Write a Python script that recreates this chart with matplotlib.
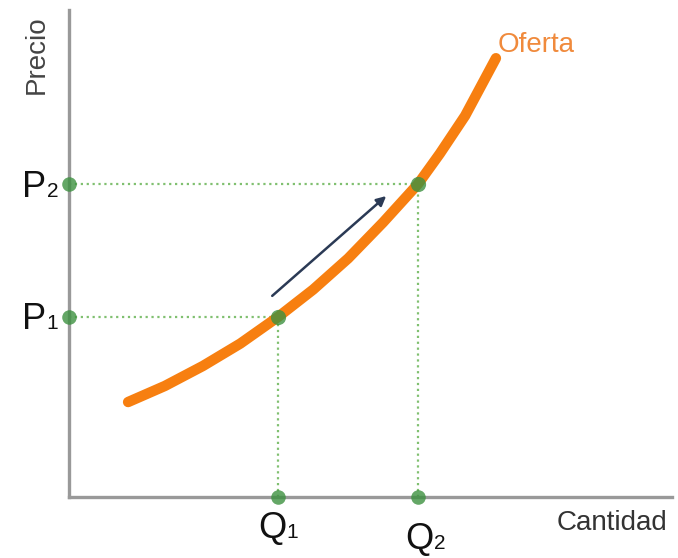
import matplotlib.pyplot as plt

plt.rcParams['font.family'] = ['Liberation Sans', 'DejaVu Sans']

# supply curve (quantity, price), 0-100 scale
curve_q = [9.8, 15.9, 22.2, 28.4, 34.7, 40.5, 46.3, 52.1, 57.9, 61.5, 65.7, 70.8]
curve_p = [19.5, 22.8, 26.9, 31.5, 37.0, 42.6, 49.0, 56.4, 64.3, 70.5, 78.3, 90.1]

# equilibrium points
q_vals = [34.7, 57.9]
p_vals = [37.0, 64.3]
subs = ['1', '2']

orange = '#f77f10'
green = '#3d9140'
dot_green = '#80c070'

fig = plt.figure(figsize=(6.78, 5.58), dpi=100)
ax = fig.add_axes([69 / 678, 61 / 558, 603 / 678, 487 / 558])
ax.set_xlim(0, 100)
ax.set_ylim(0, 100)
for s in ['top', 'right']:
    ax.spines[s].set_visible(False)
for s in ['left', 'bottom']:
    ax.spines[s].set_color('#999999')
    ax.spines[s].set_linewidth(2.4)
ax.set_xticks([])
ax.set_yticks([])

# guide lines
for q, p in zip(q_vals, p_vals):
    ax.plot([0, q], [p, p], ls=':', color=dot_green, lw=1.6, zorder=1)
    ax.plot([q, q], [0, p], ls=':', color=dot_green, lw=1.6, zorder=1)

# supply curve
ax.plot(curve_q, curve_p, color=orange, lw=7.5, solid_capstyle='round',
        solid_joinstyle='round', zorder=2)

# points
ax.scatter(q_vals, p_vals, s=120, color=green, alpha=0.8, lw=0, zorder=3)
ax.scatter([0, 0], p_vals, s=110, color=green, alpha=0.8, lw=0, zorder=3, clip_on=False)
ax.scatter(q_vals, [0, 0], s=110, color=green, alpha=0.8, lw=0, zorder=3, clip_on=False)

# movement arrow
ax.annotate('', xy=(52.6, 61.8), xytext=(33.7, 41.3),
            arrowprops=dict(arrowstyle='-|>', color='#2b3a55', lw=1.8,
                            mutation_scale=14, shrinkA=0, shrinkB=0))


def sub_label(x, y, main, sub, dx_main, dx_sub, dy):
    ax.annotate(main, (x, y), xytext=(dx_main, dy), textcoords='offset points',
                ha='left', va='baseline', fontsize=26, color='#111111',
                annotation_clip=False)
    ax.annotate(sub, (x, y), xytext=(dx_sub, dy), textcoords='offset points',
                ha='left', va='baseline', fontsize=15, color='#111111',
                annotation_clip=False)


sub_label(0, p_vals[0], 'P', subs[0], -34, -16, -8.6)
sub_label(0, p_vals[1], 'P', subs[1], -34, -16, -9.4)
sub_label(q_vals[0], 0, 'Q', subs[0], -14.4, 5.5, -29.5)
sub_label(q_vals[1], 0, 'Q', subs[1], -9.4, 11.5, -37.5)

ax.text(90.0, -5.3, 'Cantidad', ha='center', va='center', fontsize=20, color='#333333')
ax.text(-5.3, 90.8, 'Precio', ha='center', va='center', rotation=90, fontsize=20,
        color='#444444')
ax.text(71.0, 92.8, 'Oferta', ha='left', va='center', fontsize=20, color='#f08a3c')

fig.savefig('out.png', dpi=100)
